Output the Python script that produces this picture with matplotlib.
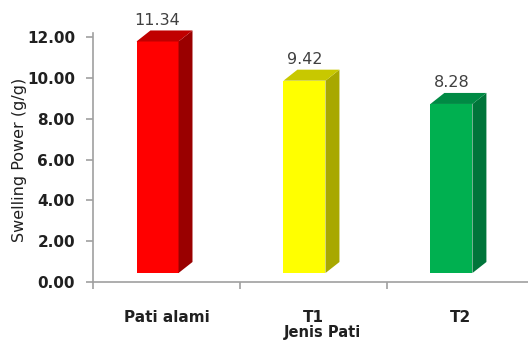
import matplotlib
matplotlib.use("Agg")
import matplotlib.pyplot as plt
from matplotlib.patches import Polygon

# data
categories = ["Pati alami", "T1", "T2"]
values = [11.34, 9.42, 8.28]
front_colors = ["#FF0000", "#FFFF00", "#00B050"]
side_colors = ["#9A0000", "#A8A800", "#00753A"]
top_colors = ["#C00000", "#C8C800", "#008A44"]
yticks = [0, 2, 4, 6, 8, 10, 12]

# 3D look (data units)
lift = 0.44      # floor raised above the axis line
w = 0.286        # front face width
shift = -0.061   # front face offset from category centre
dx = 0.095       # depth to the right
dy = 0.54        # depth upward

plt.rcParams['font.family'] = ['DejaVu Sans']
fig = plt.figure(figsize=(5.28, 3.40), dpi=100)
ax = fig.add_axes([93 / 528, 1 - 282 / 340, 1 - 93 / 528, (282 - 37) / 340])

for i, v in enumerate(values):
    xl = i + shift - w / 2
    xr = xl + w
    top = lift + v
    ax.bar(i + shift, v, width=w, bottom=lift, color=front_colors[i],
           edgecolor="none", zorder=3, clip_on=False)
    ax.add_patch(Polygon([(xr, lift), (xr + dx, lift + dy), (xr + dx, top + dy), (xr, top)],
                         closed=True, facecolor=side_colors[i], edgecolor="none", zorder=3,
                         clip_on=False))
    ax.add_patch(Polygon([(xl, top), (xl + dx, top + dy), (xr + dx, top + dy), (xr, top)],
                         closed=True, facecolor=top_colors[i], edgecolor="none", zorder=3,
                         clip_on=False))
    ax.annotate(f"{v:.2f}", (i + shift, top + dy), xytext=(0, 2), textcoords="offset points",
                ha="center", va="bottom", fontsize=11.5, color="#404040",
                annotation_clip=False)

ax.set_xlim(-0.5, 2.46)
ax.set_ylim(0, 12)
ax.set_yticks(yticks)
ax.set_yticklabels([f"{t:.2f}" for t in yticks], fontsize=11, fontweight="bold", color="#202020")
ax.set_xticks(range(len(categories)))
ax.set_xticklabels(categories, fontsize=11, fontweight="bold", color="#202020")
ax.set_xticks([-0.5, 0.5, 1.5], minor=True)
ax.tick_params(axis="x", which="major", length=0, pad=20)
ax.tick_params(axis="x", which="minor", length=5, color="#A0A0A0", width=1.2)
ax.tick_params(axis="y", length=5, color="#A0A0A0", width=1.2, pad=8)

for s in ["top", "right"]:
    ax.spines[s].set_visible(False)
for s in ["left", "bottom"]:
    ax.spines[s].set_color("#A0A0A0")
    ax.spines[s].set_linewidth(1.2)
ax.spines["left"].set_bounds(0, 12.2)

fig.text(20 / 528, 1 - 160 / 340, "Swelling Power (g/g)", rotation=90, ha="center", va="center",
         fontsize=11.5, color="#202020")
fig.text(322 / 528, 1 - 333 / 340, "Jenis Pati", ha="center", va="center",
         fontsize=10.5, fontweight="bold", color="#202020")

fig.savefig("out.png", dpi=100)
